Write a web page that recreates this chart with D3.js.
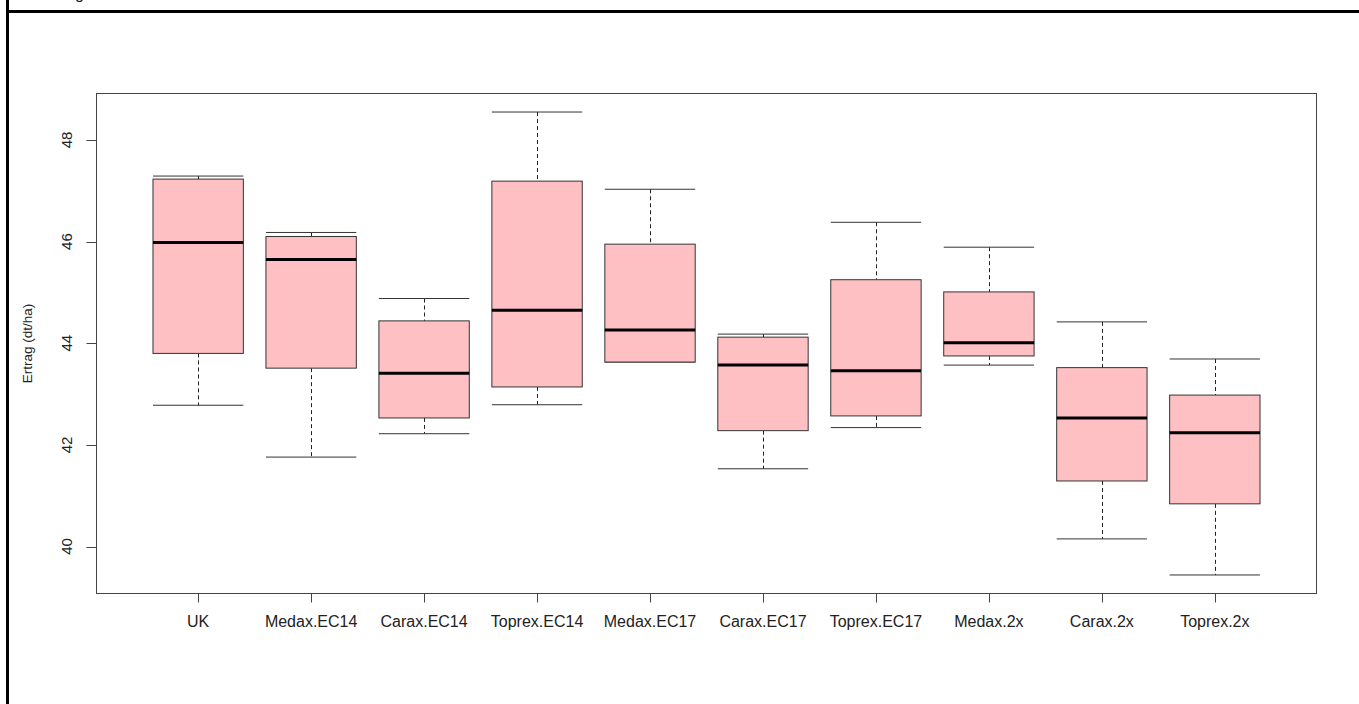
<!DOCTYPE html>
<html>
<head>
<meta charset="utf-8">
<script src="https://cdn.jsdelivr.net/npm/d3@7"></script>
<style>
  html, body { margin: 0; padding: 0; background: #fff; }
  svg { display: block; }
  text { font-family: "Liberation Sans", Arial, sans-serif; fill: #222; }
</style>
</head>
<body>
<svg id="chart" width="1359" height="704"></svg>
<script>
// Yield per variant (dt/ha): five-number summaries
const categories = ["UK", "Medax.EC14", "Carax.EC14", "Toprex.EC14", "Medax.EC17",
                    "Carax.EC17", "Toprex.EC17", "Medax.2x", "Carax.2x", "Toprex.2x"];
const whiskerLow  = [42.78, 41.76, 42.22, 42.79, 43.63, 41.53, 42.34, 43.57, 40.15, 39.44];
const boxLow      = [43.80, 43.51, 42.53, 43.14, 43.63, 42.28, 42.57, 43.75, 41.29, 40.84];
const medians     = [45.98, 45.65, 43.41, 44.65, 44.26, 43.57, 43.46, 44.01, 42.53, 42.24];
const boxHigh     = [47.23, 46.10, 44.44, 47.19, 45.95, 44.12, 45.25, 45.01, 43.52, 42.98];
const whiskerHigh = [47.29, 46.18, 44.88, 48.55, 47.03, 44.18, 46.38, 45.89, 44.42, 43.69];
const yTicks = [40, 42, 44, 46, 48];
const yTitle = "Ertrag (dt/ha)";

const svg = d3.select("#chart");

// page frame
svg.append("line").attr("x1", 7.5).attr("x2", 7.5).attr("y1", 0).attr("y2", 704)
  .attr("stroke", "#000").attr("stroke-width", 3);
svg.append("line").attr("x1", 6).attr("x2", 1359).attr("y1", 11.5).attr("y2", 11.5)
  .attr("stroke", "#000").attr("stroke-width", 3);
svg.append("text").attr("x", 75).attr("y", -1).attr("font-size", 16).text("g");

const plot = { left: 96.5, right: 1316.5, top: 93.5, bottom: 593.5 };

// R-style 4% axis extension
const dMin = d3.min(whiskerLow), dMax = d3.max(whiskerHigh);
const pad = (dMax - dMin) * 0.04;
const y = d3.scaleLinear().domain([dMin - pad, dMax + pad]).range([plot.bottom, plot.top]);
const x = d3.scaleLinear().domain([0.1, categories.length + 0.9]).range([plot.left, plot.right]);

const boxW = x(1.8) - x(1);
const capW = x(1.4) - x(1);

const data = categories.map((c, i) => ({
  name: c, pos: i + 1,
  lo: whiskerLow[i], q1: boxLow[i], med: medians[i], q3: boxHigh[i], hi: whiskerHigh[i]
}));

const g = svg.append("g");
const boxes = g.selectAll("g.box").data(data).join("g").attr("class", "box");

// whiskers
boxes.append("line")
  .attr("x1", d => Math.round(x(d.pos)) + 0.5).attr("x2", d => Math.round(x(d.pos)) + 0.5)
  .attr("y1", d => y(d.hi)).attr("y2", d => y(d.q3))
  .attr("stroke", "#222").attr("stroke-dasharray", "4,3");
boxes.append("line")
  .attr("x1", d => Math.round(x(d.pos)) + 0.5).attr("x2", d => Math.round(x(d.pos)) + 0.5)
  .attr("y1", d => y(d.q1)).attr("y2", d => y(d.lo))
  .attr("stroke", "#222").attr("stroke-dasharray", "4,3");
// caps
boxes.append("line")
  .attr("x1", d => x(d.pos) - capW).attr("x2", d => x(d.pos) + capW)
  .attr("y1", d => y(d.hi)).attr("y2", d => y(d.hi))
  .attr("stroke", "#333");
boxes.append("line")
  .attr("x1", d => x(d.pos) - capW).attr("x2", d => x(d.pos) + capW)
  .attr("y1", d => y(d.lo)).attr("y2", d => y(d.lo))
  .attr("stroke", "#333");
// boxes
boxes.append("rect")
  .attr("x", d => x(d.pos) - boxW / 2).attr("width", boxW)
  .attr("y", d => y(d.q3)).attr("height", d => y(d.q1) - y(d.q3))
  .attr("fill", "#FFC0C4").attr("stroke", "#333").attr("stroke-width", 1);
// medians
boxes.append("line")
  .attr("x1", d => x(d.pos) - boxW / 2).attr("x2", d => x(d.pos) + boxW / 2)
  .attr("y1", d => y(d.med)).attr("y2", d => y(d.med))
  .attr("stroke", "#000").attr("stroke-width", 3);

// plot frame
svg.append("rect")
  .attr("x", plot.left).attr("y", plot.top)
  .attr("width", plot.right - plot.left).attr("height", plot.bottom - plot.top)
  .attr("fill", "none").attr("stroke", "#444").attr("stroke-width", 1);

// y axis
const yAxis = svg.append("g");
yAxis.selectAll("line").data(yTicks).join("line")
  .attr("x1", plot.left - 10).attr("x2", plot.left)
  .attr("y1", d => Math.round(y(d)) + 0.5).attr("y2", d => Math.round(y(d)) + 0.5)
  .attr("stroke", "#444");
yAxis.selectAll("text").data(yTicks).join("text")
  .attr("transform", d => `translate(72,${y(d)}) rotate(-90)`)
  .attr("text-anchor", "middle").attr("font-size", 15)
  .text(d => d);
svg.append("text")
  .attr("transform", `translate(32,${(plot.top + plot.bottom) / 2}) rotate(-90)`)
  .attr("text-anchor", "middle").attr("font-size", 13.5)
  .text(yTitle);

// x axis
const xAxis = svg.append("g");
xAxis.selectAll("line").data(data).join("line")
  .attr("x1", d => Math.round(x(d.pos)) + 0.5).attr("x2", d => Math.round(x(d.pos)) + 0.5)
  .attr("y1", plot.bottom).attr("y2", plot.bottom + 9)
  .attr("stroke", "#444");
xAxis.selectAll("text").data(data).join("text")
  .attr("x", d => x(d.pos)).attr("y", 627)
  .attr("text-anchor", "middle").attr("font-size", 16)
  .text(d => d.name);
</script>
</body>
</html>
